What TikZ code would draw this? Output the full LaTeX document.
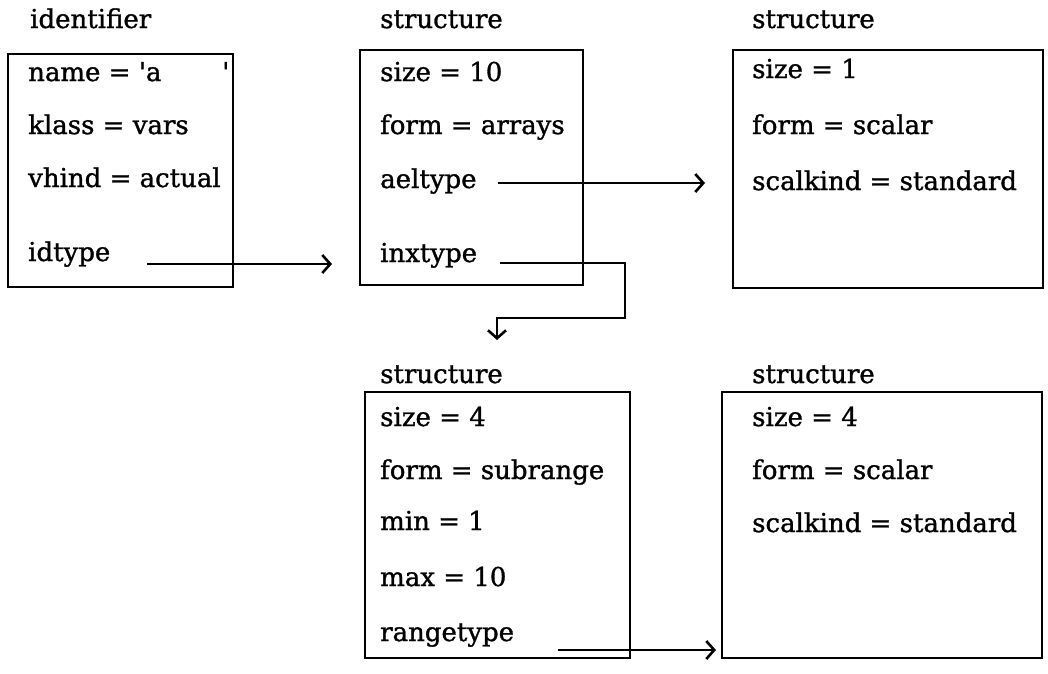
\documentclass[tikz,border=0pt]{standalone}
\usepackage{fontspec}
\setmainfont{DejaVu Serif}
\newfontfamily\recfont[FakeBold=1.2]{DejaVu Serif}
\usetikzlibrary{arrows.meta}
\tikzset{
  recbox/.style={draw, line width=2.6pt, inner sep=0pt, outer sep=0pt, anchor=north west},
  fld/.style={anchor=base west, inner sep=0pt, font=\recfont\fontsize{26}{30}\selectfont},
  ttl/.style={anchor=base west, inner sep=0pt, font=\recfont\fontsize{26}{30}\selectfont},
  link/.style={line width=2.6pt, -{Straight Barb[length=8pt,width=18pt,line width=2.6pt]}}
}
\begin{document}
\begin{tikzpicture}[x=1pt,y=-1pt]
\useasboundingbox (0,0) rectangle (1048,673);

% record boxes
\node[recbox, minimum width=225pt, minimum height=233pt] (ident) at (8,54) {};
\node[recbox, minimum width=223pt, minimum height=235pt] (arr) at (360,50) {};
\node[recbox, minimum width=310pt, minimum height=238pt] (elt) at (733,50) {};
\node[recbox, minimum width=265pt, minimum height=266pt] (sub) at (365,392) {};
\node[recbox, minimum width=320pt, minimum height=266pt] (rng) at (722,392) {};

% titles
\node[ttl] (t1) at (30,28) {identifier};
\node[ttl] (t2) at (380,28) {structure};
\node[ttl] (t3) at (752,28) {structure};
\node[ttl] (t4) at (380,383) {structure};
\node[ttl] (t5) at (752,383) {structure};

% identifier fields
\node[fld] (i1) at (28,81) {name = \textquotesingle a};
\node[fld] (i1q) at (222,81) {\textquotesingle};
\node[fld] (i2) at (28,134) {klass = vars};
\node[fld] (i3) at (28,187) {vhind = actual};
\node[fld] (i4) at (28,261) {idtype};

% array structure fields
\node[fld] (a1) at (380,81) {size = 10};
\node[fld] (a2) at (380,134) {form = arrays};
\node[fld] (a3) at (380,188) {aeltype};
\node[fld] (a4) at (380,262) {inxtype};

% element structure fields
\node[fld] (e1) at (752,78) {size = 1};
\node[fld] (e2) at (752,134) {form = scalar};
\node[fld] (e3) at (752,190) {scalkind = standard};

% subrange structure fields
\node[fld] (s1) at (380,426) {size = 4};
\node[fld] (s2) at (380,479) {form = subrange};
\node[fld] (s3) at (380,530) {min = 1};
\node[fld] (s4) at (380,586) {max = 10};
\node[fld] (s5) at (380,641) {rangetype};

% range structure fields
\node[fld] (r1) at (752,426) {size = 4};
\node[fld] (r2) at (752,479) {form = scalar};
\node[fld] (r3) at (752,532) {scalkind = standard};

% pointer ends
\coordinate (p1s) at (147,264);
\coordinate (p1e) at (332,264);
\coordinate (p2s) at (498,183);
\coordinate (p2e) at (705,183);
\coordinate (p3s) at (500,263);
\coordinate (p3a) at (625,263);
\coordinate (p3b) at (625,318);
\coordinate (p3c) at (497,318);
\coordinate (p3e) at (497,340);
\coordinate (p4s) at (558,650);
\coordinate (p4e) at (716,650);

\draw[link] (p1s) -- (p1e);
\draw[link] (p2s) -- (p2e);
\draw[link] (p3s) -- (p3a) -- (p3b) -- (p3c) -- (p3e);
\draw[link] (p4s) -- (p4e);
\end{tikzpicture}
\end{document}
